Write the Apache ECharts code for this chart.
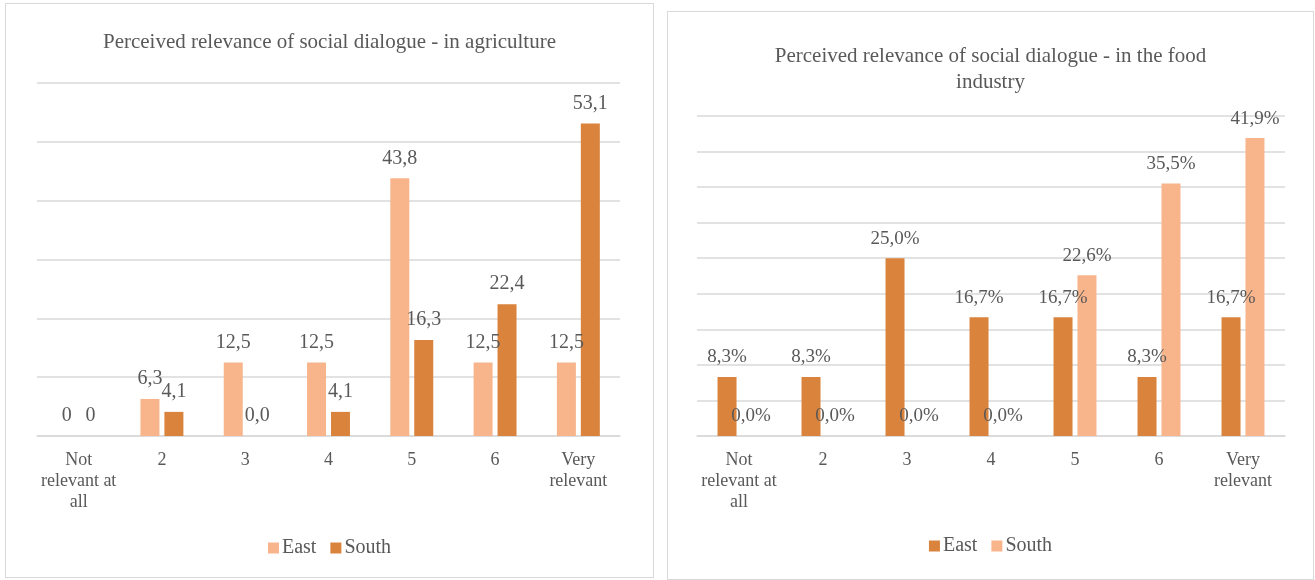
<!DOCTYPE html>
<html>
<head>
<meta charset="utf-8">
<script src="https://cdn.jsdelivr.net/npm/echarts@6/dist/echarts.min.js"></script>
<style>
  html, body { margin: 0; padding: 0; background: #fff; }
  .panel { position: absolute; border: 1.5px solid #d9d9d9; background: #fff; box-sizing: border-box; }
  #agri { left: 5px; top: 3px; width: 649px; height: 575px; }
  #food { left: 667px; top: 11px; width: 647px; height: 569px; }
</style>
</head>
<body>
<div id="agri" class="panel"></div>
<div id="food" class="panel"></div>
<script>
const categories = ['Not\nrelevant at\nall', '2', '3', '4', '5', '6', 'Very\nrelevant']

// agriculture
const agriEast = [0, 6.3, 12.5, 12.5, 43.8, 12.5, 12.5]
const agriSouth = [0, 4.1, 0, 4.1, 16.3, 22.4, 53.1]
const agriEastLabels = ['0', '6,3', '12,5', '12,5', '43,8', '12,5', '12,5']
const agriSouthLabels = ['0', '4,1', '0,0', '4,1', '16,3', '22,4', '53,1']

// food industry
const foodEast = [8.3, 8.3, 25.0, 16.7, 16.7, 8.3, 16.7]
const foodSouth = [0, 0, 0, 0, 22.6, 35.5, 41.9]
const foodEastLabels = ['8,3%', '8,3%', '25,0%', '16,7%', '16,7%', '8,3%', '16,7%']
const foodSouthLabels = ['0,0%', '0,0%', '0,0%', '0,0%', '22,6%', '35,5%', '41,9%']

const LIGHT = '#f8b58b'
const DARK = '#da833c'
const TEXT = '#595959'
const FONT = '"Liberation Serif", "Times New Roman", serif'
const GRID_LINE = '#d9d9d9'

/**
 * build a bar series
 */
function barSeries(name, data, labels, color, fontSize) {
  return {
    name,
    type: 'bar',
    data,
    barWidth: 19,
    barGap: '26%',
    itemStyle: { color },
    label: {
      show: true,
      position: 'top',
      distance: 10,
      fontFamily: FONT,
      fontSize,
      color: TEXT,
      formatter: p => labels[p.dataIndex]
    }
  }
}

function makeOption({ title, titleTop, grid, max, interval, series, legendBottom }) {
  return {
    animation: false,
    textStyle: { fontFamily: FONT },
    title: {
      text: title,
      left: 'center',
      top: titleTop,
      textStyle: { fontFamily: FONT, fontSize: 21, fontWeight: 'normal', color: TEXT, lineHeight: 26 }
    },
    legend: {
      bottom: legendBottom,
      left: 'center',
      itemWidth: 11,
      itemHeight: 11,
      itemGap: 14,
      icon: 'rect',
      textStyle: { fontFamily: FONT, fontSize: 20, color: TEXT, padding: [0, 0, 0, -2] }
    },
    grid,
    xAxis: {
      type: 'category',
      data: categories,
      axisLine: { lineStyle: { color: GRID_LINE, width: 1.5 } },
      axisTick: { show: false },
      axisLabel: {
        fontFamily: FONT,
        fontSize: 18,
        color: TEXT,
        lineHeight: 21,
        margin: 14,
        interval: 0
      }
    },
    yAxis: {
      type: 'value',
      min: 0,
      max,
      interval,
      axisLabel: { show: false },
      axisLine: { show: false },
      axisTick: { show: false },
      splitLine: { lineStyle: { color: GRID_LINE, width: 1.5 } }
    },
    series
  }
}

const agriChart = echarts.init(document.getElementById('agri'))
agriChart.setOption(makeOption({
  title: 'Perceived relevance of social dialogue - in agriculture',
  titleTop: 20,
  grid: { left: 31, right: 33, top: 79, bottom: 141 },
  max: 60,
  interval: 10,
  legendBottom: 14,
  series: [
    barSeries('East', agriEast, agriEastLabels, LIGHT, 20),
    barSeries('South', agriSouth, agriSouthLabels, DARK, 20)
  ]
}))

const foodChart = echarts.init(document.getElementById('food'))
foodChart.setOption(makeOption({
  title: 'Perceived relevance of social dialogue - in the food\nindustry',
  titleTop: 26,
  grid: { left: 29, right: 28, top: 104, bottom: 143 },
  max: 45,
  interval: 5,
  legendBottom: 18,
  series: [
    barSeries('East', foodEast, foodEastLabels, DARK, 19),
    barSeries('South', foodSouth, foodSouthLabels, LIGHT, 19)
  ]
}))

window.addEventListener('resize', () => {
  agriChart.resize()
  foodChart.resize()
})
</script>
</body>
</html>
